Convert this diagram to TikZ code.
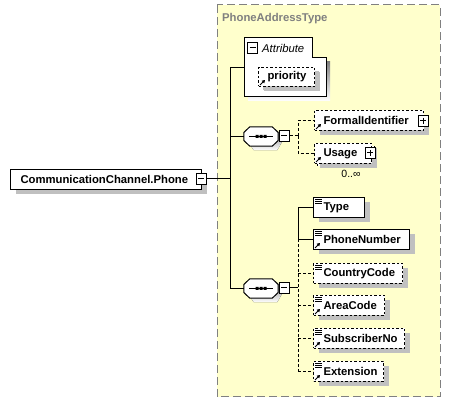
\documentclass[tikz,border=0pt]{standalone}
\usepackage{fontspec}
\setmainfont{Liberation Sans}
\usetikzlibrary{shadows,calc,arrows.meta}
\definecolor{bgyellow}{RGB}{255,255,204}
\definecolor{frame}{RGB}{128,128,128}
\definecolor{shade}{RGB}{192,192,192}
\tikzset{
  elem/.style={draw=black, line width=1pt, fill=white, minimum height=20pt, anchor=north west,
    inner xsep=10pt, inner ysep=0pt, align=left, font=\fontsize{11.3}{12}\selectfont\bfseries,
    general shadow={fill=shade, shadow xshift=5pt, shadow yshift=-5pt}},
  optelem/.style={elem, dashed, dash pattern=on 2.5pt off 2pt},
  conn/.style={draw=black, line width=1pt},
  optconn/.style={conn, dash pattern=on 3pt off 2pt},
  tog/.style={draw=black, line width=1pt, fill=white, minimum width=10pt, minimum height=11pt, inner sep=0pt},
  seq/.style={minimum width=34pt, minimum height=19pt, inner sep=0pt},
}
\newcommand{\liner}[1]{%
  \draw[line width=0.8pt] ($(#1.north west)+(2,2.5)$) -- ++(7,0)
    ($(#1.north west)+(2,4.5)$) -- ++(7,0) ($(#1.north west)+(2,6.5)$) -- ++(7,0);}
\newcommand{\refarrow}[1]{%
  \draw[line width=0.9pt, -{Triangle[length=3pt,width=3.5pt]}] ($(#1.south west)+(2,-2)$) -- ++(5,-5);}
\newcommand{\minusicon}[1]{\draw[line width=1pt] ($(#1.center)+(-3,0)$) -- ++(6,0);}
\newcommand{\plusicon}[1]{\draw[line width=1pt] ($(#1.center)+(-3,0)$) -- ++(6,0) ($(#1.center)+(0,-3)$) -- ++(0,6);}
\newcommand{\octo}[1]{%
  \fill[shade] ($(#1.north west)+(10,4)$) -- ($(#1.north east)+(-1,4)$) -- ($(#1.east)+(4,-1)$) --
    ($(#1.east)+(4,5)$) -- ($(#1.south east)+(-1,4)$) -- ($(#1.south west)+(10,4)$) --
    ($(#1.west)+(4,5)$) -- cycle;
  \draw[line width=1pt, fill=white] ($(#1.north west)+(6,0)$) -- ($(#1.north east)+(-6,0)$) --
    ($(#1.east)+(0,-4)$) -- ($(#1.east)+(0,4)$) -- ($(#1.south east)+(-6,0)$) --
    ($(#1.south west)+(6,0)$) -- ($(#1.west)+(0,4)$) -- ($(#1.west)+(0,-4)$) -- cycle;
  \draw[line width=1pt] ($(#1.center)+(-12,0)$) -- ++(24,0);
  \fill ($(#1.center)+(-5.5,-1.5)$) rectangle ++(3,3) ($(#1.center)+(-1.5,-1.5)$) rectangle ++(3,3)
        ($(#1.center)+(2.5,-1.5)$) rectangle ++(3,3);}
\begin{document}
\begin{tikzpicture}[x=1pt,y=-1pt]
\useasboundingbox (0,0) rectangle (451,403);
% complex type frame
\draw[draw=frame, fill=bgyellow, line width=1pt, dash pattern=on 8pt off 4pt] (217,5) rectangle (440,397);
\node[anchor=west, text=frame, font=\fontsize{11.3}{12}\selectfont\bfseries, inner sep=0pt] (ptype) at (222,19) {PhoneAddressType};
% main element
\node[elem, minimum width=191pt, text width=171pt] (main) at (10,169) {CommunicationChannel.Phone};
\node[tog] (mtog) at (201,179) {};
\minusicon{mtog}
% attribute group
\fill[shade] (248,62) rectangle (330,101);
\draw[line width=1pt, fill=white] (244,38) -- (312,38) -- (312,58) -- (326,58) -- (326,97) -- (244,97) -- cycle;
\node[tog, anchor=north west] (atog) at (247,42) {};
\minusicon{atog}
\node[anchor=west, inner sep=0pt, font=\fontsize{11.3}{12}\selectfont\itshape] (attr) at (262,48) {Attribute};
\node[optelem, minimum width=56pt, minimum height=19pt, text width=38pt, inner xsep=9pt,
  general shadow={fill=shade, shadow xshift=4pt, shadow yshift=-4pt}] (prio) at (258,67) {priority};
\refarrow{prio}
% sequences
\node[seq] (seq1) at (261,136.5) {};
\octo{seq1}
\node[tog] (s1tog) at (284,136) {};
\minusicon{s1tog}
\node[seq] (seq2) at (261,288.5) {};
\octo{seq2}
\node[tog] (s2tog) at (284,288) {};
\minusicon{s2tog}
% children of sequence 1
\node[optelem, minimum width=109pt, text width=91pt, inner xsep=9pt] (formal) at (314,110) {FormalIdentifier};
\refarrow{formal}
\node[tog] (ftog) at (423,121) {};
\plusicon{ftog}
\draw[line width=1pt, dash pattern=on 2.5pt off 2pt, fill=white] (317,146) rectangle (374,166);
\node[optelem, minimum width=57pt, text width=39pt, inner xsep=9pt] (usage) at (314,143) {Usage};
\refarrow{usage}
\node[tog] (utog) at (370,153) {};
\plusicon{utog}
\node[anchor=north, inner sep=0pt, font=\fontsize{10.5}{11}\selectfont] (occ) at (351,170) {0..\char"221E};
% children of sequence 2
\node[elem, minimum width=51pt, text width=31pt] (type) at (313,197) {Type};
\liner{type}
\node[elem, minimum width=96pt, text width=76pt] (phone) at (313,229) {PhoneNumber};
\liner{phone}\refarrow{phone}
\node[optelem, minimum width=89pt, text width=69pt] (country) at (313,263) {CountryCode};
\liner{country}
\node[optelem, minimum width=71pt, text width=51pt] (area) at (313,295) {AreaCode};
\liner{area}\refarrow{area}
\node[optelem, minimum width=91pt, text width=71pt] (subs) at (313,328) {SubscriberNo};
\liner{subs}\refarrow{subs}
\node[optelem, minimum width=70pt, text width=50pt] (ext) at (313,361) {Extension};
\liner{ext}\refarrow{ext}
% connectors
\coordinate (trunk) at (230,179);
\draw[conn] (mtog.east) -- (trunk);
\draw[conn] (244,68) -| (230,288);
\draw[conn] (trunk |- seq1.west) -- (seq1.west);
\draw[conn] (trunk |- seq2.west) -- (seq2.west);
\coordinate (b1) at (298,136);
\draw[optconn] (s1tog.east) -- (b1);
\draw[optconn] (b1) |- (formal.west);
\draw[optconn] (b1) |- (usage.west);
\coordinate (b2) at (298,288);
\draw[conn] (s2tog.east) -- (b2);
\draw[conn] (phone.west -| b2) |- (type.west);
\draw[conn] (phone.west -| b2) -- (phone.west);
\draw[optconn] (phone.west -| b2) -- (ext.west -| b2);
\draw[optconn] (country.west -| b2) -- (country.west);
\draw[optconn] (area.west -| b2) -- (area.west);
\draw[optconn] (subs.west -| b2) -- (subs.west);
\draw[optconn] (ext.west -| b2) -- (ext.west);
\end{tikzpicture}
\end{document}
